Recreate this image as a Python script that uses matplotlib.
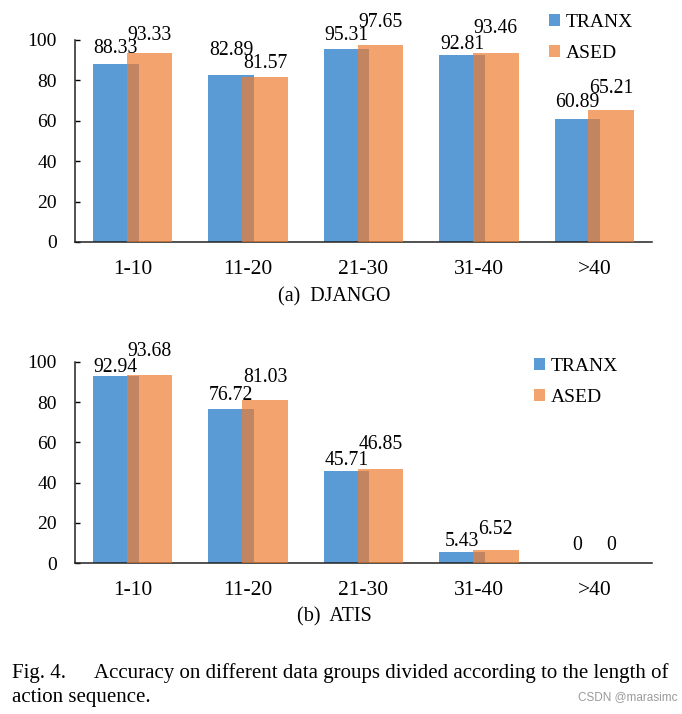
import matplotlib
matplotlib.use("Agg")
import matplotlib.pyplot as plt
from matplotlib.patches import Patch
import numpy as np

plt.rcParams['font.family'] = ['Liberation Serif', 'DejaVu Serif']

categories = ["1-10", "11-20", "21-30", "31-40", ">40"]
series_names = ["TRANX", "ASED"]

django_tranx = [88.33, 82.89, 95.31, 92.81, 60.89]
django_ased = [93.33, 81.57, 97.65, 93.46, 65.21]
atis_tranx = [92.94, 76.72, 45.71, 5.43, 0]
atis_ased = [93.68, 81.03, 46.85, 6.52, 0]

yticks = [0, 20, 40, 60, 80, 100]

# label offsets above bar tops (pixels), as placed in the reference
django_off_tranx = [11, 20, 9, 6, 12]
django_off_ased = [13, 9, 18, 20, 17]
atis_off_tranx = [4, 9, 6, 6, 13]
atis_off_ased = [19, 18, 20, 16, 13]

BLUE = "#5B9BD5"
ORANGE = "#ED7D31"
W, H = 682, 714
fig = plt.figure(figsize=(W / 100, H / 100), dpi=100)

def panel(rect, tranx, ased, off_t, off_a, subcap, subcap_y, legend_xy):
    ax = fig.add_axes(rect)
    x = np.arange(len(categories))
    width = 0.395
    off = 0.146
    ax.bar(x - off, tranx, width, color=BLUE, linewidth=0, zorder=2)
    ax.bar(x + off, ased, width, color=ORANGE, alpha=0.7, linewidth=0, zorder=3)
    for xi, v, o in zip(x, tranx, off_t):
        ax.annotate(f"{v:g}" if v == 0 else f"{v:.2f}", (xi - off, v), xytext=(0, o * 0.72),
                    textcoords="offset points", ha="center", va="baseline",
                    fontsize=14.2, annotation_clip=False, zorder=5)
    for xi, v, o in zip(x, ased, off_a):
        ax.annotate(f"{v:g}" if v == 0 else f"{v:.2f}", (xi + off, v), xytext=(0, o * 0.72),
                    textcoords="offset points", ha="center", va="baseline",
                    fontsize=14.2, annotation_clip=False, zorder=5)
    ax.set_xlim(-0.5, len(categories) - 0.5)
    ax.set_ylim(0, 100)
    ax.set_yticks(yticks)
    ax.set_xticks(x)
    ax.set_xticklabels(categories)
    for s in ["top", "right"]:
        ax.spines[s].set_visible(False)
    for s in ["left", "bottom"]:
        ax.spines[s].set_linewidth(1.1)
        ax.spines[s].set_color("#222222")
    ax.tick_params(axis="y", direction="in", length=3.5, width=1, pad=13, labelsize=14)
    ax.tick_params(axis="x", length=0, pad=13, labelsize=15.5)
    handles = [Patch(facecolor=BLUE), Patch(facecolor=ORANGE, alpha=0.7)]
    fig.legend(handles, series_names, loc="upper left",
               bbox_to_anchor=(legend_xy[0] / W, 1 - legend_xy[1] / H),
               frameon=False, fontsize=14, handlelength=0.55, handleheight=0.55,
               handletextpad=0.3, labelspacing=0.72, borderpad=0, borderaxespad=0)
    fig.text(334 / W, 1 - subcap_y / H, subcap, ha="center", va="center", fontsize=14.5)
    return ax

panel([75 / W, 1 - 242 / H, 577 / W, 202 / H], django_tranx, django_ased,
      django_off_tranx, django_off_ased, "(a)  DJANGO", 297, (549, 14))
panel([75 / W, 1 - 563 / H, 577 / W, 201 / H], atis_tranx, atis_ased,
      atis_off_tranx, atis_off_ased, "(b)  ATIS", 617, (534, 358))

fig.text(12 / W, 1 - 678 / H, "Fig. 4.", ha="left", va="baseline", fontsize=15)
fig.text(668 / W, 1 - 678 / H,
         "Accuracy on different data groups divided according to the length of",
         ha="right", va="baseline", fontsize=15)
fig.text(12 / W, 1 - 702 / H, "action sequence.", ha="left", va="baseline", fontsize=15)
fig.text(677 / W, 1 - 697 / H, "CSDN @marasimc", ha="right", va="center",
         fontsize=8.5, color="#9a9a9a", family=["Liberation Sans", "DejaVu Sans"])

fig.savefig("out.png", dpi=100)
